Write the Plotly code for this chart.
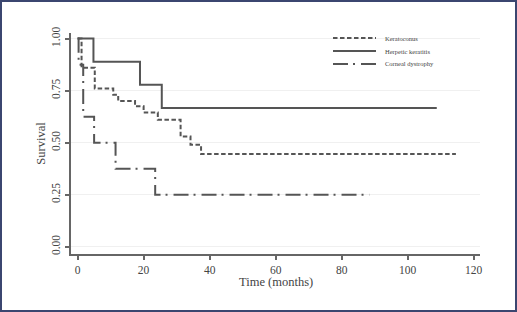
import plotly.graph_objects as go

# ---- data ----
series_names = ["Keratoconus", "Herpetic keratitis", "Corneal dystrophy"]

kc_time = [0, 1.2, 5.2, 10.8, 12.3, 17.4, 20.0, 24.3, 31.2, 34.2, 37.4, 114.6]
kc_surv = [1.0, 0.86, 0.76, 0.73, 0.70, 0.675, 0.645, 0.61, 0.53, 0.49, 0.445, 0.445]

hk_time = [0, 4.8, 18.9, 25.5, 108.8]
hk_surv = [1.0, 0.889, 0.778, 0.667, 0.667]

cd_time = [0, 0.3, 1.7, 5.0, 11.5, 23.5, 88.5]
cd_surv = [1.0, 0.875, 0.625, 0.5, 0.375, 0.25, 0.25]

x_ticks = [0, 20, 40, 60, 80, 100, 120]
y_ticks = [0.0, 0.25, 0.5, 0.75, 1.0]
y_tick_labels = ["0.00", "0.25", "0.50", "0.75", "1.00"]
x_title = "Time (months)"
y_title = "Survival"

# ---- styles ----
line_color = "#555555"
dashes = ["4.5px,2.5px", "solid", "15px,5px,2px,6px"]
W, H = 517, 312
ml, mr, mt, mb = 71, 37, 33, 58
font_family = "Liberation Serif, Times New Roman, serif"

fig = go.Figure()
for name, t, s, d in zip(series_names,
                         [kc_time, hk_time, cd_time],
                         [kc_surv, hk_surv, cd_surv],
                         dashes):
    fig.add_trace(go.Scatter(
        x=t, y=s, mode="lines", name=name,
        line=dict(shape="hv", color=line_color, width=2, dash=d),
        showlegend=False, hoverinfo="skip",
    ))

# helpers: figure pixel -> paper coords
pw = W - ml - mr
ph = H - mt - mb
def px_x(p):
    return (p - ml) / pw
def px_y(p):
    return 1 - (p - mt) / ph

# compact legend
leg_y = [38, 51, 64]
for name, d, yy in zip(series_names, dashes, leg_y):
    fig.add_shape(type="line", xref="paper", yref="paper",
                  x0=px_x(333), x1=px_x(376), y0=px_y(yy), y1=px_y(yy),
                  line=dict(color=line_color, width=2, dash=d))
    fig.add_annotation(xref="paper", yref="paper", x=px_x(383), y=px_y(yy),
                       text=name, showarrow=False, xanchor="left", yanchor="middle",
                       font=dict(family=font_family, size=6.5, color="#444444"))

# x axis title placed close under the tick labels
fig.add_annotation(xref="paper", yref="paper", x=0.5, y=px_y(282),
                   text=x_title, showarrow=False, xanchor="center", yanchor="middle",
                   font=dict(family=font_family, size=12.5, color="#444444"))

# outer frame border
fig.add_shape(type="rect", xref="paper", yref="paper",
              x0=px_x(1), x1=px_x(W - 1), y0=px_y(H - 1), y1=px_y(1),
              line=dict(color="#3b4670", width=2), layer="below")

fig.update_layout(
    width=W, height=H,
    margin=dict(l=ml, r=mr, t=mt, b=mb),
    paper_bgcolor="white", plot_bgcolor="white",
    font=dict(family=font_family, size=11, color="#444444"),
    xaxis=dict(
        range=[-2.0, 121.9], tickvals=x_ticks, ticks="outside", ticklen=4,
        tickcolor="#666666", tickwidth=1.5,
        showline=True, linecolor="#666666", linewidth=2,
        showgrid=False, zeroline=False,
        tickfont=dict(size=11.5),
    ),
    yaxis=dict(
        range=[-0.035, 1.027], tickvals=y_ticks, ticktext=y_tick_labels,
        tickangle=-90, ticks="outside", ticklen=4,
        tickcolor="#666666", tickwidth=1.5,
        showline=True, linecolor="#666666", linewidth=2,
        showgrid=True, gridcolor="#f0f0f0", gridwidth=1, zeroline=False,
        title=dict(text=y_title, standoff=2, font=dict(size=12.5)),
        tickfont=dict(size=11.5),
    ),
)

fig.write_html("out.html", config={"displayModeBar": False},
               post_script="document.body.style.margin='0';document.body.style.overflow='hidden';")
